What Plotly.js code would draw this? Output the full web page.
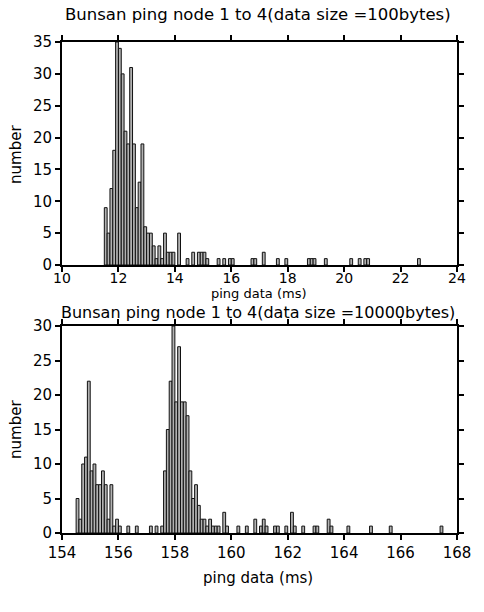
<!DOCTYPE html>
<html>
<head>
<meta charset="utf-8">
<script src="https://cdn.plot.ly/plotly-3.0.1.min.js"></script>
<style>html,body{margin:0;padding:0;background:#fff;}#chart{width:484px;height:612px;}</style>
</head>
<body>
<div id="chart"></div>
<script>
// Top histogram: data size = 100 bytes (bin start, ms; bin width 0.1 ms)
const binsTop = [11.5,11.6,11.7,11.8,11.9,12.0,12.1,12.2,12.3,12.4,12.5,12.6,12.7,12.8,12.9,
  13.0,13.1,13.2,13.3,13.4,13.5,13.6,13.7,13.8,13.9,14.1,14.4,14.6,14.8,14.9,15.0,15.1,
  15.5,15.7,15.9,16.0,16.7,16.8,17.1,17.6,17.9,18.7,18.8,18.9,19.3,20.2,20.5,20.7,20.8,22.6];
const countsTop = [9,5,12,18,35,34,30,21,19,31,19,9,13,19,6,
  5,5,3,1,3,1,5,2,2,2,5,1,2,2,2,2,1,
  1,1,1,1,1,1,2,1,1,1,1,1,1,1,1,1,1,1];

// Bottom histogram: data size = 10000 bytes
const binsBottom = [154.5,154.6,154.7,154.8,154.9,155.0,155.1,155.2,155.3,155.4,155.5,155.6,155.7,155.8,155.9,156.0,
  156.3,156.6,157.1,157.3,
  157.5,157.6,157.7,157.8,157.9,158.0,158.1,158.2,158.3,158.4,158.5,158.6,158.7,158.8,158.9,159.0,
  159.1,159.2,159.3,159.4,159.5,159.7,159.8,160.2,160.5,160.8,161.0,161.1,161.2,161.5,161.6,161.9,
  162.1,162.2,162.5,162.9,163.0,163.4,163.5,164.1,164.9,165.6,167.4];
const countsBottom = [5,2,10,11,22,9,10,7,7,9,7,2,7,1,2,1,
  1,1,1,1,
  1,9,15,22,30,19,27,19,19,17,9,5,7,4,2,2,
  1,2,1,1,1,3,1,1,1,2,1,2,1,1,1,1,
  3,1,1,1,1,2,1,1,1,1,1];

const titleTop = 'Bunsan ping node 1 to 4(data size =100bytes)';
const titleBottom = 'Bunsan ping node 1 to 4(data size =10000bytes)';
const xLabel = 'ping data (ms)';
const yLabel = 'number';

const FONT = 'DejaVu Sans, Verdana, sans-serif';
const barStyle = {color: '#b2b2b2', line: {color: '#111', width: 1}};

const traces = [
  {type: 'bar', x: binsTop, y: countsTop, width: 0.1, offset: 0, marker: barStyle, xaxis: 'x', yaxis: 'y'},
  {type: 'bar', x: binsBottom, y: countsBottom, width: 0.1, offset: 0, marker: barStyle, xaxis: 'x2', yaxis: 'y2'}
];

function axisBase(extra) {
  return Object.assign({
    showline: true, mirror: 'ticks', linecolor: '#000', linewidth: 2,
    ticks: 'outside', ticklen: 5, tickwidth: 2, tickcolor: '#000',
    showgrid: false, zeroline: false, fixedrange: true,
    tickfont: {family: FONT, size: 15, color: '#000'}
  }, extra);
}

function label(text, x, y, size, angle) {
  return {text: text, xref: 'paper', yref: 'paper', x: x / 484, y: 1 - y / 612,
    xanchor: 'center', yanchor: 'middle', showarrow: false, textangle: angle || 0,
    font: {family: FONT, size: size, color: '#000'}};
}

const layout = {
  width: 484, height: 612,
  margin: {l: 0, r: 0, t: 0, b: 0},
  paper_bgcolor: '#fff', plot_bgcolor: '#fff',
  showlegend: false, bargap: 0,
  font: {family: FONT, color: '#000'},
  xaxis: axisBase({domain: [62/484, 457/484], range: [10, 24], dtick: 2, tick0: 10, anchor: 'y',
    ticklabelstandoff: -6, tickfont: {family: FONT, size: 14, color: '#000'}}),
  yaxis: axisBase({domain: [1 - 265/612, 1 - 42/612], range: [0, 35], dtick: 5, anchor: 'x'}),
  xaxis2: axisBase({domain: [62/484, 457/484], range: [154, 168], dtick: 2, tick0: 154, anchor: 'y2'}),
  yaxis2: axisBase({domain: [1 - 533/612, 1 - 326/612], range: [0, 30], dtick: 5, anchor: 'x2'}),
  annotations: [
    label(titleTop, 258, 14, 16.5),
    label(titleBottom, 258, 312, 16),
    label(xLabel, 258, 293.5, 13),
    label(xLabel, 258, 578, 15),
    label(yLabel, 16, 155, 15, -90),
    label(yLabel, 16, 430, 15, -90)
  ]
};

Plotly.newPlot('chart', traces, layout, {staticPlot: true, displayModeBar: false});
</script>
</body>
</html>
